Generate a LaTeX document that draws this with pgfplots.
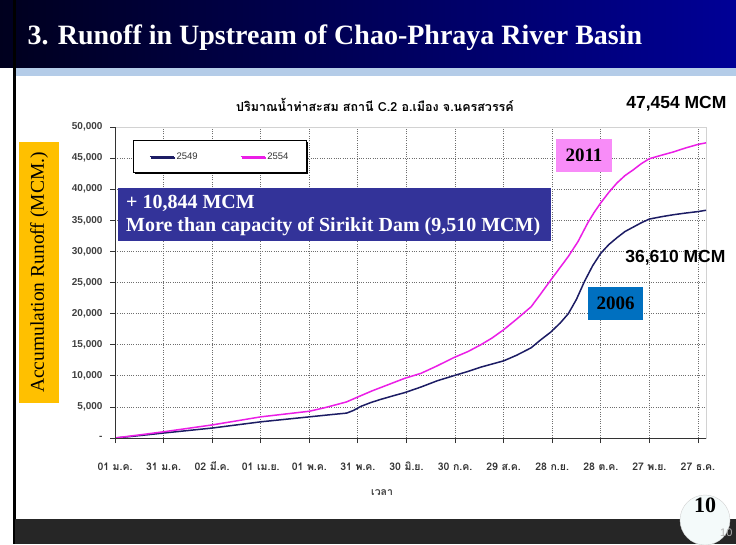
\documentclass[border=0pt]{standalone}
\usepackage{fontspec}
\setmainfont{Liberation Serif}
\setsansfont{Liberation Sans}
\newfontfamily\thaifont[Script=Thai]{Loma}
\usepackage{pgfplots}
\pgfplotsset{compat=1.18}
\usetikzlibrary{shadows}
\definecolor{navyline}{RGB}{28,28,100}
\definecolor{magline}{RGB}{235,30,230}
\definecolor{boxblue}{RGB}{51,51,153}
\definecolor{orangebox}{RGB}{255,192,0}
\definecolor{pinkbox}{RGB}{248,140,248}
\definecolor{blueTwo}{RGB}{0,112,192}
\definecolor{titleL}{RGB}{0,0,30}
\definecolor{titleR}{RGB}{0,0,150}
\definecolor{stripc}{RGB}{180,204,232}
\definecolor{gridc}{RGB}{110,110,110}
\definecolor{circlec}{RGB}{244,250,250}
\begin{document}
\begin{tikzpicture}[x=1pt,y=1pt]
\useasboundingbox (0,0) rectangle (736,544);
\fill[white] (0,0) rectangle (736,544);
\shade[left color=titleL, right color=titleR] (0,476) rectangle (736,544);
\fill[stripc] (15,468) rectangle (736,476);
\fill[black] (13,0) rectangle (16,544);
\fill[black!85] (15,0) rectangle (736,25);
\node[anchor=west, text=white, font=\bfseries\fontsize{28}{30}\selectfont] at (24,506) {3. Runoff in Upstream of Chao-Phraya River Basin};

\fill[orangebox] (19,141) rectangle (59,402);
\node[rotate=90, font=\fontsize{19.5}{21}\selectfont] at (39,271.5) {Accumulation Runoff (MCM.)};

\node[font=\thaifont\bfseries\fontsize{12.5}{14}\selectfont] at (375,439) {ปริมาณน้ำท่าสะสม สถานี C.2 อ.เมือง จ.นครสวรรค์};

\begin{axis}[
  at={(115pt,106pt)}, anchor=south west, scale only axis,
  width=591pt, height=311pt,
  xmin=0, xmax=365, ymin=0, ymax=50000,
  scaled y ticks=false,
  xtick={0,30,...,360},
  xticklabels={{01 ม.ค.},{31 ม.ค.},{02 มี.ค.},{01 เม.ย.},{01 พ.ค.},{31 พ.ค.},{30 มิ.ย.},{30 ก.ค.},{29 ส.ค.},{28 ก.ย.},{28 ต.ค.},{27 พ.ย.},{27 ธ.ค.}},
  ytick={0,5000,10000,15000,20000,25000,30000,35000,40000,45000,50000},
  yticklabels={{-},{5,000},{10,000},{15,000},{20,000},{25,000},{30,000},{35,000},{40,000},{45,000},{50,000}},
  xticklabel style={font=\thaifont\bfseries\fontsize{10.5}{12}\selectfont, text=black!80, anchor=base, yshift=-27pt},
  yticklabel style={font=\sffamily\bfseries\fontsize{10}{11}\selectfont, text=black!75, anchor=east, xshift=-4pt},
  xlabel={เวลา},
  xlabel style={font=\thaifont\bfseries\fontsize{10.5}{12}\selectfont, text=black!75, at={(axis description cs:0.452,0)}, anchor=center, yshift=-55pt},
  tick align=outside, xtick pos=bottom, ytick pos=left,
  major tick length=5pt,
  tick style={black!80, line width=0.8pt},
  axis line style={draw=gray!35, line width=1pt},
  grid=major,
  major grid style={gridc, dash pattern=on 1pt off 1.3pt, line width=0.8pt},
  legend style={at={(rel axis cs:0.03,0.958)}, anchor=north west, legend columns=2,
    draw=black, line width=0.8pt, fill=white, text=gray!40!black,
    font=\sffamily\fontsize{9.5}{11}\selectfont,
    inner xsep=16pt, inner ysep=10pt,
    /tikz/every even column/.append style={column sep=40pt},
    drop shadow={shadow xshift=1.5pt, shadow yshift=-1.5pt, fill=black, opacity=1}},
  legend image code/.code={\draw[#1, line width=1.5pt] (0pt,0pt) -- (24pt,0pt);},
]
\addplot[navyline, line width=1.5pt] coordinates {
(0,0)(10,250)(20,520)(30,800)(45,1200)(60,1600)(75,2100)(90,2600)(105,3000)(120,3400)(135,3800)(143,4000)(147,4400)(152,5100)(158,5700)(164,6200)(172,6800)(179,7300)(189,8200)(199,9200)(209,10000)(218,10700)(226,11400)(233,11900)(240,12400)(248,13300)(257,14500)(263,15800)(269,17000)(275,18500)(280,20000)(285,22300)(290,25200)(295,27700)(300,29700)(305,31100)(310,32200)(315,33200)(320,33900)(325,34600)(330,35200)(338,35600)(345,35900)(352,36150)(360,36400)(365,36610)};
\addlegendentry{2549}
\addplot[magline, line width=1.5pt] coordinates {
(0,0)(10,330)(20,660)(30,1000)(45,1550)(60,2100)(75,2750)(90,3400)(105,3850)(120,4300)(130,4900)(143,5800)(150,6600)(159,7600)(168,8500)(179,9600)(189,10400)(199,11600)(209,12900)(218,13900)(226,15000)(233,16100)(240,17400)(248,19100)(257,21100)(263,23200)(268,25000)(274,27100)(280,29200)(286,31600)(292,34600)(296,36300)(300,37800)(305,39500)(310,41000)(315,42200)(320,43100)(325,44100)(330,44900)(338,45500)(345,46000)(352,46600)(360,47200)(365,47454)};
\addlegendentry{2554}
\draw[black!80, line width=1pt] (rel axis cs:0,1) -- (rel axis cs:0,0) -- (rel axis cs:1,0);
\end{axis}

\fill[boxblue] (118,303) rectangle (551,356);
\node[anchor=base west, text=white, font=\bfseries\fontsize{20}{22}\selectfont, inner sep=0] at (126,335) {+ 10,844 MCM};
\node[anchor=base west, text=white, font=\bfseries\fontsize{20}{22}\selectfont, inner sep=0] at (126,312) {More than capacity of Sirikit Dam (9,510 MCM)};

\fill[pinkbox] (556,372) rectangle (612,405);
\node[font=\bfseries\fontsize{19}{20}\selectfont] at (584,388.5) {2011};
\fill[blueTwo] (588,224) rectangle (643,257);
\node[font=\bfseries\fontsize{19}{20}\selectfont] at (615.5,240.5) {2006};

\node[anchor=east, font=\sffamily\bfseries\fontsize{17.5}{19}\selectfont] at (730,440) {47,454 MCM};
\node[anchor=east, font=\sffamily\bfseries\fontsize{17.5}{19}\selectfont] at (729,286) {36,610 MCM};

\draw[gray!35, fill=circlec] (705,24) circle (25);
\node[font=\bfseries\fontsize{22}{24}\selectfont] at (705,39) {10};
\node[anchor=east, text=gray!60, font=\sffamily\fontsize{11}{12}\selectfont] at (736,11) {10};
\end{tikzpicture}
\end{document}
